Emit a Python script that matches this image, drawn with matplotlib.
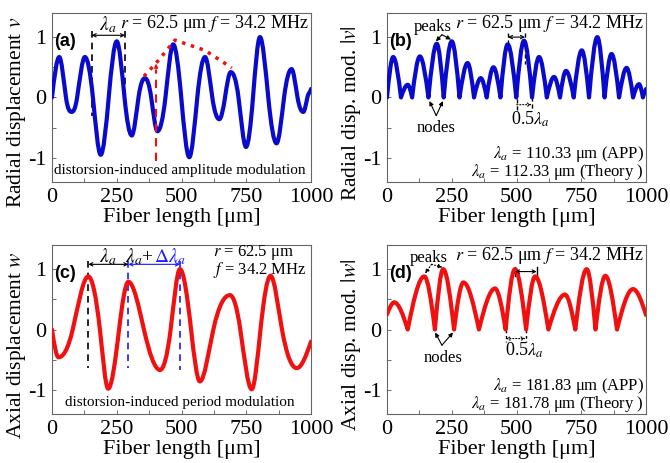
import numpy as np
import matplotlib.pyplot as plt
from matplotlib.path import Path
from matplotlib.patches import PathPatch

# values: extrema and zero crossings of each curve
a_x = [0, 28, 54, 76, 97, 127, 158, 188, 219, 250, 280, 308, 334, 359, 383, 407, 438,
       468, 499, 530, 561, 591, 619, 646, 668, 690, 720, 749, 776, 803, 835, 867, 896,
       925, 948, 970, 986, 1000]
a_y = [0, 0.67, 0, -0.24, 0, 0.67, 0, -0.95, 0, 0.93, 0, -0.63, 0, 0.32, 0, -0.56, 0,
       0.88, 0, -0.99, 0, 0.67, 0, -0.36, 0, 0.42, 0, -0.82, 0, 1.0, 0, -0.76, 0,
       0.47, 0, -0.24, 0, 0.14]

b_x = [0, 24, 54, 80, 97, 127, 160, 192, 219, 250, 280, 311, 336, 362, 385, 411, 438,
       466, 499, 529, 560, 587, 617, 645, 668, 691, 721, 752, 780, 812, 840, 867, 896,
       925, 950, 973, 988, 1000]
b_y = [0, 0.67, 0, 0.21, 0, 0.68, 0, 0.89, 0, 0.93, 0, 0.57, 0, 0.32, 0, 0.5, 0,
       0.88, 0, 0.94, 0, 0.67, 0, 0.34, 0, 0.44, 0, 0.78, 0, 1.0, 0, 0.72, 0,
       0.49, 0, 0.22, 0, 0.14]

c_x = [0, 25, 80, 140, 185, 217, 259, 295, 355, 417, 458, 494, 537, 571, 623, 687,
       727, 771, 805, 844, 888, 945, 1000]
c_y = [0, -0.46, 0, 0.88, 0, -0.98, 0, 0.79, 0, -0.67, 0, 1.0, 0, -0.86, 0, 0.57,
       0, -0.99, 0, 0.89, 0, -0.64, -0.2]

d_x = [0, 28, 80, 144, 185, 217, 259, 295, 355, 417, 458, 494, 537, 572, 623, 687,
       727, 771, 805, 843, 888, 950, 1000]
d_y = [0.25, 0.45, 0, 0.88, 0, 1.0, 0, 0.78, 0, 0.68, 0, 1.0, 0, 0.88, 0, 0.58,
       0, 1.0, 0, 0.89, 0, 0.67, 0.24]

# red dotted envelope in (a)
env_x = [355, 402, 475, 591, 694]
env_y = [0.35, 0.57, 0.95, 0.78, 0.49]

blue = '#0a0acc'
red = '#f01010'
lblue = '#1a1aff'

plt.rcParams['font.family'] = 'Liberation Serif'
plt.rcParams['mathtext.fontset'] = 'stix'
plt.rcParams['axes.unicode_minus'] = False


def curve_path(xs, ys, cusp=False):
    """cubic bezier path through extrema (flat) and zero crossings"""
    n = len(xs)

    def slope(i, j):
        if i in (0, n - 1) or (ys[i] == 0 and cusp):
            return 1.57 * (ys[j] - ys[i]) / (xs[j] - xs[i])
        if ys[i] == 0:
            return 1.57 * (ys[i + 1] - ys[i - 1]) / (xs[i + 1] - xs[i - 1])
        return 0.0

    verts = [(xs[0], ys[0])]
    codes = [Path.MOVETO]
    for i in range(n - 1):
        d = (xs[i + 1] - xs[i]) / 3
        m0, m1 = slope(i, i + 1), slope(i + 1, i)
        verts += [(xs[i] + d, ys[i] + m0 * d), (xs[i + 1] - d, ys[i + 1] - m1 * d),
                  (xs[i + 1], ys[i + 1])]
        codes += [Path.CURVE4] * 3
    return Path(verts, codes)


def setup(ax, ylabel, letter):
    ax.set_xlim(0, 1000)
    ax.set_ylim(-1.4, 1.4)
    ax.set_xticks([0, 250, 500, 750, 1000])
    ax.set_xticks([125, 375, 625, 875], minor=True)
    ax.set_yticks([-1, 0, 1])
    ax.set_yticks([-0.5, 0.5], minor=True)
    ax.tick_params(which='both', direction='in', length=3, width=0.6,
                   labelsize=16, pad=4, color='#555')
    for s in ax.spines.values():
        s.set_color('#666')
        s.set_linewidth(0.8)
    ax.set_xlabel('Fiber length [μm]', fontsize=16, labelpad=1)
    ax.set_ylabel(ylabel, fontsize=15.5)
    ax.yaxis.set_label_coords(-0.092, 0.41)
    ax.text(8, 0.93, letter, fontfamily='Liberation Sans', fontweight='bold',
            fontsize=13, va='center')


def arrow(ax, x0, y0, x1, y1, style='<->', color='k', ls='-'):
    ax.annotate('', xy=(x1, y1), xytext=(x0, y0),
                arrowprops=dict(arrowstyle=style, lw=0.8, color=color, ls=ls,
                                mutation_scale=6, shrinkA=0, shrinkB=0))


fig = plt.figure(figsize=(6.7, 4.63), dpi=100)
ax_a = fig.add_axes([0.0776, 0.607, 0.3866, 0.365])
ax_b = fig.add_axes([0.5776, 0.607, 0.3866, 0.365])
ax_c = fig.add_axes([0.0776, 0.1058, 0.3866, 0.365])
ax_d = fig.add_axes([0.5776, 0.1058, 0.3866, 0.365])

setup(ax_a, 'Radial displacement $v$', '(a)')
setup(ax_b, 'Radial disp. mod. $|v|$', '(b)')
setup(ax_c, 'Axial displacement $w$', '(c)')
setup(ax_d, 'Axial disp. mod. $|w|$', '(d)')

for ax, xs, ys, col, cusp in [(ax_a, a_x, a_y, blue, False), (ax_b, b_x, b_y, blue, True),
                              (ax_c, c_x, c_y, red, False), (ax_d, d_x, d_y, red, True)]:
    ax.add_patch(PathPatch(curve_path(xs, ys, cusp), fill=False, lw=3, color=col,
                           capstyle='round', joinstyle='round', zorder=3))

rf = '$r$ = 62.5 μm $f$ = 34.2 MHz'

# (a)
ax_a.text(990, 1.22, rf, ha='right', va='center', fontsize=13)
ax_a.plot([153, 153], [1.1, -0.3], 'k', ls=(0, (4, 3)), lw=1.2)
ax_a.plot([282, 282], [1.1, 0.1], 'k', ls=(0, (4, 3)), lw=1.2)
arrow(ax_a, 153, 1.03, 282, 1.03)
ax_a.text(217, 1.2, r'$\lambda_a$', ha='center', va='center', fontsize=14)
ax_a.plot(env_x, env_y, ':', color=red, lw=2.5, zorder=4)
ax_a.plot([402, 402], [-1.05, 0.45], color=red, ls=(0, (4, 3)), lw=1.5, zorder=4)
arrow(ax_a, 402, 0.4, 402, 0.56, style='-|>', color=red)
ax_a.text(494, -1.21, 'distorsion-induced amplitude modulation', ha='center',
          va='center', fontsize=11)

# (b)
ax_b.text(990, 1.22, rf, ha='right', va='center', fontsize=13)
ax_b.text(178, 1.16, 'peaks', ha='center', va='center', fontsize=12)
arrow(ax_b, 212, 1.04, 189, 0.93, style='-|>')
arrow(ax_b, 212, 1.04, 247, 0.96, style='-|>')
ax_b.text(190, -0.5, 'nodes', ha='center', va='center', fontsize=12)
arrow(ax_b, 190, -0.3, 164, -0.06, style='-|>')
arrow(ax_b, 190, -0.3, 216, -0.06, style='-|>')
ax_b.plot([501, 501], [0.2, -0.2], 'k', ls=(0, (3, 2)), lw=1)
ax_b.plot([559, 559], [0.0, -0.2], 'k', ls=(0, (3, 2)), lw=1)
arrow(ax_b, 501, -0.12, 559, -0.12, style='->', ls=':')
ax_b.text(552, -0.37, r'0.5$\lambda_a$', ha='center', va='center', fontsize=13)
ax_b.plot([467, 467], [1.07, 0.78], 'k', ls=(0, (3, 2)), lw=1)
ax_b.plot([533, 533], [1.07, 0.56], 'k', ls=(0, (3, 2)), lw=1)
arrow(ax_b, 467, 1.0, 533, 1.0)
ax_b.text(990, -0.94, r'$\lambda_a$ = 110.33 μm (APP)', ha='right', va='center',
          fontsize=12)
ax_b.text(990, -1.24, r'$\lambda_a$ = 112.33 μm (Theory )', ha='right', va='center',
          fontsize=12)

# (c)
ax_c.text(623, 1.27, '$r$ = 62.5 μm', ha='left', va='center', fontsize=12)
ax_c.text(623, 0.98, '$f$ = 34.2 MHz', ha='left', va='center', fontsize=12)
ax_c.plot([140, 140], [1.14, -0.63], 'k', ls=(0, (4, 3)), lw=1.2)
ax_c.plot([295, 295], [1.14, -0.63], color=lblue, ls=(0, (4, 3)), lw=1.2)
ax_c.plot([494, 494], [1.14, -0.67], color=lblue, ls=(0, (4, 3)), lw=1.2)
arrow(ax_c, 140, 1.08, 295, 1.08)
arrow(ax_c, 295, 1.08, 494, 1.08, color=lblue)
ax_c.text(217, 1.2, r'$\lambda_a$', ha='center', va='center', fontsize=14)
ax_c.text(392, 1.2, r'$\lambda_a$+', ha='right', va='center', fontsize=14)
ax_c.text(393, 1.2, r'$\Delta\lambda_a$', ha='left', va='center', fontsize=14, color=lblue)
ax_c.text(494, -1.21, 'distorsion-induced period modulation', ha='center',
          va='center', fontsize=11)

# (d)
ax_d.text(990, 1.22, rf, ha='right', va='center', fontsize=13)
ax_d.text(163, 1.19, 'peaks', ha='center', va='center', fontsize=12)
arrow(ax_d, 172, 1.08, 147, 0.93, style='-|>', ls=':')
arrow(ax_d, 172, 1.08, 214, 1.03, style='-|>', ls=':')
ax_d.text(215, -0.47, 'nodes', ha='center', va='center', fontsize=12)
arrow(ax_d, 212, -0.26, 186, -0.05, style='-|>')
arrow(ax_d, 212, -0.26, 255, -0.05, style='-|>')
ax_d.plot([458, 458], [0.0, -0.2], 'k', ls=(0, (2, 2)), lw=1)
ax_d.plot([535, 535], [0.0, -0.2], 'k', ls=(0, (2, 2)), lw=1)
arrow(ax_d, 458, -0.15, 535, -0.15, ls=':')
ax_d.text(531, -0.35, r'0.5$\lambda_a$', ha='center', va='center', fontsize=13)
ax_d.plot([494, 494], [1.03, 0.88], 'k', lw=1)
ax_d.plot([578, 578], [1.03, 0.88], 'k', lw=1)
arrow(ax_d, 494, 0.96, 578, 0.96)
ax_d.text(990, -0.94, r'$\lambda_a$ = 181.83 μm (APP)', ha='right', va='center',
          fontsize=12)
ax_d.text(990, -1.24, r'$\lambda_a$ = 181.78 μm (Theory )', ha='right', va='center',
          fontsize=12)

fig.savefig('out.png', dpi=100)
